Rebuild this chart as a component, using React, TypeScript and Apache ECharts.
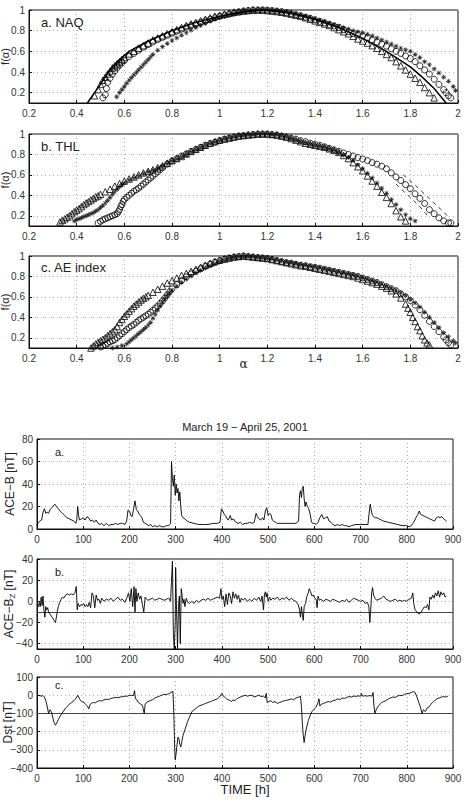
import React, { useEffect, useRef } from 'react';
import * as echarts from 'echarts';

// ---------- Top: multifractal spectra f(alpha) ----------
const naqTri = [[0.475,0.17],[0.49,0.23],[0.5,0.28],[0.51,0.32],[0.52,0.35],[0.53,0.38],[0.54,0.41],[0.55,0.44],[0.56,0.46],[0.57,0.48],[0.58,0.5],[0.59,0.52],[0.6,0.54],[0.62,0.575],[0.64,0.6],[0.66,0.63],[0.68,0.655],[0.7,0.68],[0.72,0.71],[0.74,0.73],[0.76,0.75],[0.78,0.77],[0.8,0.79],[0.82,0.81],[0.84,0.83],[0.86,0.85],[0.88,0.865],[0.9,0.88],[0.92,0.895],[0.94,0.91],[0.96,0.925],[0.98,0.94],[1.0,0.95],[1.02,0.96],[1.04,0.97],[1.06,0.98],[1.08,0.985],[1.1,0.99],[1.12,0.995],[1.14,1.0],[1.16,1.0],[1.18,1.0],[1.2,0.995],[1.22,0.99],[1.24,0.985],[1.26,0.978],[1.28,0.97],[1.3,0.96],[1.32,0.95],[1.34,0.94],[1.36,0.925],[1.38,0.91],[1.4,0.895],[1.42,0.88],[1.44,0.865],[1.46,0.85],[1.48,0.83],[1.5,0.81],[1.52,0.79],[1.54,0.77],[1.56,0.745],[1.58,0.72],[1.6,0.7],[1.62,0.68],[1.64,0.655],[1.66,0.63],[1.68,0.6],[1.7,0.57],[1.72,0.54],[1.74,0.5],[1.76,0.46],[1.78,0.42],[1.8,0.38],[1.82,0.34],[1.84,0.3],[1.86,0.25],[1.88,0.2],[1.9,0.15]];
const naqCirc = [[0.51,0.15],[0.52,0.18],[0.525,0.24],[0.53,0.3],[0.54,0.34],[0.55,0.38],[0.56,0.41],[0.57,0.44],[0.58,0.465],[0.59,0.49],[0.6,0.51],[0.62,0.55],[0.64,0.58],[0.66,0.61],[0.68,0.64],[0.7,0.665],[0.72,0.69],[0.74,0.715],[0.76,0.735],[0.78,0.755],[0.8,0.775],[0.82,0.795],[0.84,0.815],[0.86,0.835],[0.88,0.85],[0.9,0.865],[0.92,0.88],[0.94,0.895],[0.96,0.91],[0.98,0.925],[1.0,0.94],[1.02,0.95],[1.04,0.96],[1.06,0.97],[1.08,0.98],[1.1,0.99],[1.12,0.995],[1.14,1.0],[1.16,1.0],[1.18,1.0],[1.2,1.0],[1.22,0.995],[1.24,0.99],[1.26,0.985],[1.28,0.975],[1.3,0.965],[1.32,0.955],[1.34,0.945],[1.36,0.93],[1.38,0.92],[1.4,0.905],[1.42,0.89],[1.44,0.875],[1.46,0.86],[1.48,0.845],[1.5,0.83],[1.52,0.81],[1.54,0.79],[1.56,0.77],[1.58,0.76],[1.6,0.75],[1.62,0.73],[1.64,0.71],[1.66,0.69],[1.68,0.67],[1.7,0.65],[1.72,0.625],[1.74,0.6],[1.76,0.58],[1.78,0.555],[1.8,0.53],[1.82,0.5],[1.84,0.46],[1.86,0.42],[1.88,0.38],[1.9,0.33],[1.92,0.28],[1.94,0.23],[1.95,0.2],[1.96,0.17],[1.97,0.15]];
const naqStar = [[0.568,0.16],[0.58,0.2],[0.59,0.23],[0.6,0.26],[0.61,0.29],[0.62,0.32],[0.63,0.345],[0.64,0.37],[0.65,0.395],[0.66,0.42],[0.67,0.445],[0.68,0.47],[0.69,0.495],[0.7,0.52],[0.71,0.545],[0.72,0.57],[0.74,0.61],[0.76,0.645],[0.78,0.675],[0.8,0.705],[0.82,0.73],[0.84,0.755],[0.86,0.78],[0.88,0.805],[0.9,0.83],[0.92,0.85],[0.94,0.87],[0.96,0.89],[0.98,0.91],[1.0,0.925],[1.02,0.94],[1.04,0.955],[1.06,0.965],[1.08,0.975],[1.1,0.985],[1.12,0.99],[1.14,0.995],[1.16,1.0],[1.18,1.0],[1.2,1.0],[1.22,0.995],[1.24,0.99],[1.26,0.985],[1.28,0.98],[1.3,0.97],[1.32,0.96],[1.34,0.95],[1.36,0.94],[1.38,0.93],[1.4,0.915],[1.42,0.9],[1.44,0.89],[1.46,0.875],[1.48,0.86],[1.5,0.845],[1.52,0.83],[1.54,0.815],[1.56,0.8],[1.58,0.79],[1.6,0.78],[1.62,0.765],[1.64,0.75],[1.66,0.73],[1.68,0.71],[1.7,0.69],[1.72,0.67],[1.74,0.65],[1.76,0.63],[1.78,0.615],[1.8,0.6],[1.82,0.57],[1.84,0.54],[1.86,0.5],[1.88,0.47],[1.9,0.43],[1.92,0.39],[1.94,0.35],[1.96,0.31],[1.98,0.26],[1.99,0.22]];
const naqFit = [[0.445,0.1],[0.475,0.2],[0.5,0.28],[0.53,0.39],[0.57,0.5],[0.62,0.6],[0.7,0.7],[0.8,0.8],[0.9,0.88],[1.0,0.94],[1.1,0.98],[1.15,0.995],[1.2,1.0],[1.3,0.97],[1.4,0.91],[1.5,0.83],[1.6,0.725],[1.7,0.6],[1.8,0.45],[1.85,0.35],[1.9,0.24],[1.95,0.1]];

const thlTri = [[0.33,0.14],[0.34,0.155],[0.35,0.17],[0.36,0.185],[0.37,0.2],[0.38,0.22],[0.39,0.24],[0.4,0.255],[0.41,0.27],[0.42,0.29],[0.43,0.31],[0.44,0.325],[0.45,0.34],[0.46,0.355],[0.47,0.37],[0.48,0.385],[0.49,0.395],[0.5,0.41],[0.52,0.435],[0.54,0.46],[0.56,0.49],[0.58,0.515],[0.6,0.54],[0.62,0.56],[0.64,0.58],[0.66,0.6],[0.68,0.62],[0.7,0.635],[0.72,0.65],[0.74,0.67],[0.76,0.69],[0.78,0.715],[0.8,0.74],[0.82,0.76],[0.84,0.78],[0.86,0.805],[0.88,0.83],[0.9,0.85],[0.92,0.87],[0.94,0.89],[0.96,0.91],[0.98,0.925],[1.0,0.94],[1.02,0.95],[1.04,0.96],[1.06,0.97],[1.08,0.98],[1.1,0.985],[1.12,0.99],[1.14,0.995],[1.16,1.0],[1.18,1.0],[1.2,1.0],[1.22,0.995],[1.24,0.99],[1.26,0.98],[1.28,0.97],[1.3,0.955],[1.32,0.94],[1.34,0.925],[1.36,0.91],[1.38,0.9],[1.4,0.89],[1.42,0.88],[1.44,0.87],[1.46,0.855],[1.48,0.84],[1.5,0.82],[1.52,0.79],[1.54,0.76],[1.56,0.72],[1.58,0.68],[1.6,0.64],[1.62,0.59],[1.64,0.54],[1.66,0.49],[1.68,0.43],[1.7,0.38],[1.72,0.32],[1.74,0.25],[1.76,0.19],[1.78,0.15]];
const thlStar = [[0.39,0.15],[0.4,0.16],[0.41,0.17],[0.42,0.18],[0.43,0.19],[0.44,0.2],[0.45,0.21],[0.46,0.22],[0.47,0.23],[0.48,0.245],[0.49,0.26],[0.5,0.28],[0.51,0.3],[0.52,0.325],[0.53,0.35],[0.54,0.38],[0.55,0.41],[0.56,0.435],[0.57,0.46],[0.58,0.485],[0.59,0.505],[0.6,0.52],[0.62,0.55],[0.64,0.57],[0.66,0.59],[0.68,0.61],[0.7,0.63],[0.72,0.645],[0.74,0.665],[0.76,0.685],[0.78,0.71],[0.8,0.735],[0.82,0.755],[0.84,0.775],[0.86,0.8],[0.88,0.825],[0.9,0.845],[0.92,0.865],[0.94,0.885],[0.96,0.905],[0.98,0.92],[1.0,0.935],[1.02,0.95],[1.04,0.96],[1.06,0.97],[1.08,0.98],[1.1,0.985],[1.12,0.99],[1.14,0.995],[1.16,1.0],[1.18,1.0],[1.2,1.0],[1.22,0.995],[1.24,0.99],[1.26,0.98],[1.28,0.97],[1.3,0.955],[1.32,0.94],[1.34,0.925],[1.36,0.91],[1.38,0.9],[1.4,0.89],[1.42,0.88],[1.44,0.87],[1.46,0.855],[1.48,0.84],[1.5,0.82],[1.52,0.795],[1.54,0.77],[1.56,0.74],[1.58,0.7],[1.6,0.66],[1.62,0.615],[1.64,0.57],[1.66,0.52],[1.68,0.47],[1.7,0.42],[1.72,0.36],[1.74,0.31],[1.76,0.26],[1.78,0.21],[1.8,0.17],[1.82,0.15]];
const thlCirc = [[0.49,0.13],[0.5,0.145],[0.51,0.16],[0.52,0.17],[0.53,0.18],[0.54,0.19],[0.55,0.2],[0.56,0.21],[0.57,0.22],[0.575,0.24],[0.58,0.26],[0.585,0.29],[0.59,0.31],[0.595,0.34],[0.6,0.36],[0.61,0.38],[0.62,0.4],[0.63,0.42],[0.64,0.44],[0.65,0.455],[0.66,0.47],[0.67,0.49],[0.68,0.51],[0.69,0.53],[0.7,0.55],[0.71,0.57],[0.72,0.59],[0.73,0.61],[0.74,0.63],[0.75,0.65],[0.76,0.67],[0.78,0.705],[0.8,0.735],[0.82,0.76],[0.84,0.785],[0.86,0.805],[0.88,0.83],[0.9,0.85],[0.92,0.87],[0.94,0.89],[0.96,0.905],[0.98,0.92],[1.0,0.935],[1.02,0.95],[1.04,0.96],[1.06,0.97],[1.08,0.98],[1.1,0.985],[1.12,0.99],[1.14,0.995],[1.16,1.0],[1.18,1.0],[1.2,1.0],[1.22,0.995],[1.24,0.99],[1.26,0.98],[1.28,0.97],[1.3,0.96],[1.32,0.95],[1.34,0.935],[1.36,0.925],[1.38,0.91],[1.4,0.9],[1.42,0.89],[1.44,0.875],[1.46,0.86],[1.48,0.845],[1.5,0.83],[1.52,0.815],[1.54,0.8],[1.56,0.785],[1.58,0.77],[1.6,0.755],[1.62,0.74],[1.64,0.72],[1.66,0.705],[1.68,0.685],[1.7,0.66],[1.72,0.62],[1.74,0.58],[1.76,0.545],[1.78,0.505],[1.8,0.465],[1.82,0.415],[1.84,0.37],[1.86,0.32],[1.88,0.26],[1.9,0.22],[1.92,0.18],[1.94,0.15],[1.96,0.13],[1.97,0.13]];
const thlDashA = [[1.77,0.6],[1.82,0.5],[1.87,0.39],[1.92,0.28],[1.96,0.19]];
const thlDashB = [[1.74,0.51],[1.79,0.4],[1.84,0.29],[1.88,0.18]];

const aeTri = [[0.46,0.1],[0.47,0.12],[0.48,0.14],[0.49,0.155],[0.5,0.17],[0.51,0.185],[0.52,0.2],[0.53,0.22],[0.54,0.24],[0.55,0.26],[0.56,0.28],[0.57,0.31],[0.58,0.35],[0.59,0.38],[0.6,0.41],[0.61,0.435],[0.62,0.46],[0.63,0.485],[0.64,0.51],[0.65,0.53],[0.66,0.55],[0.67,0.57],[0.68,0.585],[0.69,0.6],[0.7,0.615],[0.72,0.645],[0.74,0.675],[0.76,0.705],[0.78,0.735],[0.8,0.76],[0.82,0.785],[0.84,0.81],[0.86,0.83],[0.88,0.85],[0.9,0.87],[0.92,0.89],[0.94,0.91],[0.96,0.93],[0.98,0.945],[1.0,0.96],[1.02,0.97],[1.04,0.98],[1.06,0.99],[1.08,0.995],[1.1,1.0],[1.12,0.995],[1.14,0.99],[1.16,0.985],[1.18,0.98],[1.2,0.975],[1.22,0.965],[1.24,0.955],[1.26,0.945],[1.28,0.935],[1.3,0.925],[1.32,0.915],[1.34,0.905],[1.36,0.9],[1.38,0.89],[1.4,0.88],[1.42,0.87],[1.44,0.86],[1.46,0.85],[1.48,0.84],[1.5,0.83],[1.52,0.82],[1.54,0.81],[1.56,0.8],[1.58,0.785],[1.6,0.77],[1.62,0.755],[1.64,0.74],[1.66,0.725],[1.68,0.705],[1.7,0.685],[1.72,0.66],[1.74,0.63],[1.76,0.59],[1.78,0.53],[1.79,0.49],[1.8,0.45],[1.81,0.4],[1.82,0.36],[1.83,0.31],[1.84,0.27],[1.85,0.22],[1.86,0.18],[1.87,0.15],[1.88,0.13]];
const aeCirc = [[0.5,0.11],[0.51,0.12],[0.52,0.13],[0.53,0.145],[0.54,0.16],[0.55,0.17],[0.56,0.18],[0.57,0.2],[0.58,0.22],[0.59,0.24],[0.6,0.26],[0.61,0.28],[0.62,0.3],[0.63,0.315],[0.64,0.33],[0.65,0.35],[0.66,0.37],[0.67,0.385],[0.68,0.4],[0.69,0.415],[0.7,0.43],[0.71,0.45],[0.72,0.47],[0.73,0.49],[0.74,0.51],[0.75,0.535],[0.76,0.56],[0.77,0.59],[0.78,0.62],[0.79,0.65],[0.8,0.68],[0.82,0.72],[0.84,0.76],[0.86,0.795],[0.88,0.825],[0.9,0.85],[0.92,0.875],[0.94,0.9],[0.96,0.92],[0.98,0.94],[1.0,0.955],[1.02,0.97],[1.04,0.98],[1.06,0.99],[1.08,0.995],[1.1,1.0],[1.12,0.995],[1.14,0.99],[1.16,0.985],[1.18,0.98],[1.2,0.975],[1.22,0.965],[1.24,0.955],[1.26,0.945],[1.28,0.935],[1.3,0.93],[1.32,0.92],[1.34,0.91],[1.36,0.905],[1.38,0.895],[1.4,0.89],[1.42,0.88],[1.44,0.87],[1.46,0.86],[1.48,0.85],[1.5,0.84],[1.52,0.83],[1.54,0.82],[1.56,0.81],[1.58,0.8],[1.6,0.785],[1.62,0.77],[1.64,0.755],[1.66,0.74],[1.68,0.72],[1.7,0.7],[1.72,0.68],[1.74,0.66],[1.76,0.63],[1.78,0.6],[1.8,0.565],[1.82,0.52],[1.84,0.475],[1.86,0.42],[1.88,0.36],[1.9,0.31],[1.92,0.26],[1.94,0.21],[1.95,0.18],[1.96,0.15],[1.97,0.13]];
const aeStar = [[0.55,0.1],[0.57,0.11],[0.59,0.125],[0.61,0.14],[0.62,0.16],[0.63,0.18],[0.64,0.2],[0.65,0.22],[0.66,0.24],[0.67,0.26],[0.68,0.28],[0.69,0.3],[0.7,0.325],[0.71,0.35],[0.72,0.39],[0.73,0.43],[0.74,0.47],[0.75,0.51],[0.76,0.55],[0.77,0.585],[0.78,0.615],[0.79,0.64],[0.8,0.665],[0.82,0.705],[0.84,0.74],[0.86,0.775],[0.88,0.805],[0.9,0.835],[0.92,0.86],[0.94,0.885],[0.96,0.905],[0.98,0.925],[1.0,0.945],[1.02,0.96],[1.04,0.975],[1.06,0.985],[1.08,0.99],[1.1,0.995],[1.12,0.995],[1.14,0.99],[1.16,0.985],[1.18,0.98],[1.2,0.975],[1.22,0.97],[1.24,0.96],[1.26,0.95],[1.28,0.94],[1.3,0.935],[1.32,0.925],[1.34,0.915],[1.36,0.91],[1.38,0.9],[1.4,0.895],[1.42,0.885],[1.44,0.875],[1.46,0.865],[1.48,0.855],[1.5,0.845],[1.52,0.835],[1.54,0.825],[1.56,0.815],[1.58,0.805],[1.6,0.79],[1.62,0.775],[1.64,0.76],[1.66,0.745],[1.68,0.725],[1.7,0.705],[1.72,0.685],[1.74,0.665],[1.76,0.64],[1.78,0.61],[1.8,0.575],[1.82,0.54],[1.84,0.5],[1.86,0.45],[1.88,0.4],[1.9,0.35],[1.92,0.3],[1.94,0.25],[1.96,0.21],[1.98,0.17],[1.99,0.15]];

// ---------- Bottom: time series ----------
const aceB = [[0,3],[3,6],[6,7],[10,8],[13,15],[16,18],[19,14],[22,15],[25,14],[28,17],[32,19],[36,21],[39,22],[42,20],[46,18],[50,16],[55,14],[60,12],[65,10],[70,9],[75,8],[80,7],[84,5],[86,8],[88,20],[90,12],[92,8],[96,9],[100,10],[104,8],[108,11],[112,10],[116,7],[120,8],[124,6],[128,8],[132,5],[136,4],[140,5],[145,3],[150,5],[155,3],[160,4],[165,4],[170,5],[175,4],[180,5],[185,5],[190,4],[194,7],[197,17],[200,16],[203,12],[206,11],[209,18],[212,25],[215,17],[218,16],[221,13],[224,12],[227,10],[230,6],[234,5],[238,4],[242,3],[246,4],[250,2],[255,3],[260,2],[265,3],[270,2],[275,2],[280,3],[285,3],[289,5],[291,60],[293,45],[295,38],[297,48],[299,30],[301,40],[303,32],[305,36],[307,25],[309,33],[311,20],[313,12],[316,10],[320,9],[325,7],[330,6],[340,5],[350,4],[360,4],[370,4],[380,5],[390,5],[396,6],[399,18],[402,16],[405,13],[408,12],[411,9],[414,8],[418,12],[421,8],[425,9],[430,6],[435,5],[440,6],[445,4],[450,5],[455,5],[460,6],[465,5],[470,6],[474,14],[477,11],[480,9],[484,8],[488,10],[491,8],[494,16],[497,19],[500,12],[503,14],[506,13],[509,8],[512,7],[516,6],[520,5],[530,5],[540,5],[550,5],[560,5],[566,7],[568,30],[570,34],[572,28],[574,36],[576,38],[578,27],[580,20],[582,24],[585,20],[588,18],[591,13],[594,6],[597,5],[600,5],[604,4],[608,6],[612,10],[616,13],[620,9],[624,10],[628,11],[632,7],[636,6],[640,4],[645,3],[650,4],[655,3],[660,4],[665,3],[670,3],[675,2],[680,3],[690,4],[700,4],[710,4],[716,4],[719,16],[721,22],[723,17],[725,13],[728,11],[732,10],[736,10],[740,9],[745,8],[750,7],[760,6],[770,5],[780,4],[790,3],[800,3],[805,2],[810,3],[815,6],[820,10],[824,13],[827,16],[830,13],[835,12],[840,11],[845,10],[850,9],[855,8],[860,7],[864,10],[868,11],[872,10],[876,11],[880,9],[883,8],[886,7]];
const aceBz = [[0,-3],[3,-5],[5,-1],[7,-5],[9,4],[11,-4],[13,5],[15,-8],[17,-15],[19,-5],[21,-8],[23,-6],[25,-10],[28,-12],[31,-14],[34,-16],[37,-18],[40,-20],[43,-12],[46,-5],[49,-1],[52,2],[55,4],[58,3],[62,6],[66,7],[70,6],[74,7],[78,6],[82,8],[85,14],[87,-8],[89,-2],[92,-5],[95,-3],[98,-4],[101,-2],[104,-5],[107,-3],[110,-5],[113,-1],[116,-6],[119,8],[122,5],[125,-6],[128,6],[131,1],[134,2],[137,-2],[140,3],[145,0],[150,2],[155,1],[160,3],[165,0],[170,2],[175,4],[180,1],[185,2],[190,-1],[195,4],[198,8],[201,0],[204,12],[207,-5],[210,14],[212,-10],[214,12],[216,0],[219,8],[222,2],[225,5],[228,-3],[231,-10],[234,4],[237,2],[240,1],[245,2],[250,3],[255,1],[260,2],[265,3],[270,2],[275,1],[280,2],[285,3],[289,0],[291,20],[293,38],[295,-30],[297,-45],[299,-20],[300,32],[302,-10],[304,-45],[306,-5],[308,5],[310,-40],[312,12],[314,5],[316,-2],[318,2],[320,-5],[323,3],[326,-1],[330,-2],[335,0],[340,-2],[345,1],[350,-1],[355,1],[360,2],[365,1],[370,3],[375,1],[380,2],[385,3],[390,4],[395,3],[398,12],[400,2],[403,5],[406,-5],[409,7],[412,-3],[415,8],[418,5],[421,-2],[424,9],[427,3],[430,7],[433,2],[436,6],[439,-1],[442,3],[446,1],[450,3],[455,0],[460,2],[465,0],[470,3],[475,1],[480,4],[484,0],[487,5],[490,-8],[492,6],[494,9],[496,4],[498,8],[500,0],[503,4],[506,1],[510,3],[515,2],[520,4],[525,1],[530,3],[535,2],[540,4],[545,1],[550,3],[555,1],[560,0],[565,-3],[568,-8],[570,-15],[572,-5],[574,-12],[576,-18],[578,-5],[581,-2],[584,5],[587,8],[589,12],[592,9],[595,5],[598,6],[601,3],[604,2],[606,-6],[608,5],[611,1],[614,2],[620,0],[625,2],[630,1],[635,0],[640,2],[645,1],[650,0],[655,-1],[660,1],[665,0],[670,2],[675,-1],[680,1],[685,3],[690,2],[695,1],[700,0],[705,1],[710,-2],[715,-1],[718,-5],[720,-20],[722,-8],[724,8],[726,13],[728,6],[731,3],[735,1],[740,2],[745,3],[750,5],[755,2],[760,1],[765,0],[770,1],[775,2],[780,0],[785,1],[790,0],[795,1],[800,0],[805,2],[810,3],[813,8],[815,-2],[818,-8],[822,-10],[826,-12],[830,-11],[834,-8],[838,-5],[842,-6],[845,-3],[848,-8],[850,4],[853,2],[856,6],[859,3],[862,8],[865,5],[868,10],[871,4],[874,9],[877,6],[880,8],[883,4],[886,5]];
const dst = [[0,0],[5,-2],[10,-5],[13,-2],[16,-10],[19,-30],[22,-60],[25,-100],[28,-80],[31,-90],[34,-120],[37,-150],[40,-165],[43,-150],[46,-135],[50,-115],[54,-100],[58,-85],[62,-70],[66,-60],[70,-50],[75,-40],[80,-30],[85,-15],[88,0],[90,-10],[93,-25],[97,-35],[101,-40],[105,-50],[109,-60],[112,-75],[115,-50],[118,-45],[122,-40],[126,-42],[130,-35],[135,-30],[140,-32],[145,-25],[150,-22],[155,-24],[160,-18],[165,-15],[170,-12],[175,-14],[180,-10],[185,-8],[190,-5],[195,-6],[200,0],[205,-2],[209,-1],[211,25],[213,-20],[216,-25],[219,-40],[222,-45],[225,-50],[228,-55],[230,-80],[232,-100],[234,-50],[237,-40],[240,-35],[245,-30],[250,-25],[255,-15],[260,-10],[265,-5],[270,0],[275,5],[280,3],[285,8],[290,15],[294,22],[296,-100],[297,-200],[298,-300],[299,-355],[301,-320],[303,-270],[305,-230],[307,-240],[309,-270],[311,-285],[313,-260],[316,-220],[320,-190],[325,-150],[330,-120],[335,-90],[340,-80],[345,-70],[350,-60],[355,-55],[360,-50],[365,-45],[370,-40],[375,-35],[380,-30],[385,-25],[390,-20],[395,-10],[400,10],[403,-5],[406,-10],[410,-20],[414,-25],[418,-30],[421,-35],[424,-25],[428,-30],[432,-20],[436,-15],[440,-10],[445,-5],[450,0],[455,-5],[460,-2],[465,0],[470,-10],[475,-5],[480,0],[485,-8],[490,-5],[494,-15],[496,10],[498,-40],[502,-35],[506,-30],[510,-40],[515,-35],[520,-45],[525,-40],[530,-35],[535,-30],[540,-28],[545,-25],[550,-20],[555,-25],[560,-15],[565,-12],[570,-5],[572,-60],[574,-150],[576,-220],[578,-260],[580,-220],[583,-180],[587,-140],[591,-110],[595,-90],[600,-75],[604,-65],[608,-40],[610,-20],[612,-60],[615,-50],[620,-45],[625,-40],[630,-35],[635,-38],[640,-30],[645,-28],[650,-20],[655,-25],[660,-15],[665,-18],[670,-12],[675,-8],[680,-10],[685,-5],[690,-6],[695,-4],[700,-5],[702,10],[704,-5],[710,-3],[715,-5],[720,-2],[725,-5],[727,15],[729,-60],[731,-100],[734,-80],[738,-60],[742,-50],[746,-40],[750,-35],[755,-30],[760,-20],[765,-15],[770,-10],[775,-12],[780,-5],[785,0],[790,-3],[795,5],[800,8],[805,10],[810,15],[814,20],[818,15],[822,-10],[826,-40],[830,-70],[833,-100],[836,-80],[840,-90],[844,-70],[848,-65],[852,-50],[856,-40],[860,-30],[865,-20],[870,-15],[875,-10],[880,-8],[885,-10],[889,-5]];

const fTicks = [0.2, 0.4, 0.6, 0.8, 1];
const bzTicks = [-40, -20, 0, 20, 40];
const bzThreshold = -10;
const dstThreshold = -100;

const FONT = '"Liberation Sans", Arial, Helvetica, sans-serif';
const STAR = 'path://M4.3,0H5.7V10H4.3Z M0,4.3H10V5.7H0Z M1,2L2,1L9,8L8,9Z M8,1L9,2L2,9L1,8Z';

const fmt = (v: number) => {
  const r = Math.round(v * 1000) / 1000;
  return (r < 0 ? '\u2212' : '') + String(Math.abs(r));
};

function buildOption() {
  const topTops = [10, 134, 256];
  const topH = [93, 92, 92];
  const botTops = [439, 559, 677];
  const botH = [90, 90, 91];
  const grid: any[] = [];
  const gBase = { show: true, borderColor: '#111', borderWidth: 1, backgroundColor: 'transparent', containLabel: false, outerBoundsMode: 'none' };
  topTops.forEach((t, i) => grid.push({ ...gBase, left: 29, width: 429, top: t, height: topH[i] }));
  botTops.forEach((t, i) => grid.push({ ...gBase, left: 37, width: 416, top: t, height: botH[i] }));

  const splitLine = { show: true, lineStyle: { type: [1, 3], color: '#999', width: 0.8 } };
  const axisLine = { show: true, onZero: false, lineStyle: { color: '#111', width: 1 } };
  const axisTick = { show: true, inside: true, length: 3, lineStyle: { color: '#111' } };
  const lab = { fontSize: 10, color: '#333', fontFamily: FONT };

  const xAxis: any[] = [];
  const yAxis: any[] = [];
  for (let i = 0; i < 3; i++) {
    xAxis.push({
      gridIndex: i, type: 'value', min: 0.2, max: 2, interval: 0.2,
      axisLine, axisTick, splitLine,
      axisLabel: { ...lab, margin: 5, formatter: fmt },
      name: i === 2 ? '\u03b1' : '', nameLocation: 'middle', nameGap: 10, nameMoveOverlap: false,
      nameTextStyle: { fontSize: 12, color: '#222', fontFamily: 'DejaVu Serif, serif' },
    });
    yAxis.push({
      gridIndex: i, type: 'value', min: 0.1, max: 1,
      axisLine, splitLine,
      axisTick: { ...axisTick, customValues: fTicks },
      axisLabel: { ...lab, margin: 4, formatter: fmt, customValues: fTicks },
      name: 'f(\u03b1)', nameLocation: 'middle', nameGap: 19, nameRotate: 90, nameMoveOverlap: false,
      nameTextStyle: { fontSize: 11, color: '#222', fontFamily: FONT },
    });
  }
  for (let i = 0; i < 3; i++) {
    xAxis.push({
      gridIndex: 3 + i, type: 'value', min: 0, max: 900, interval: 100,
      axisLine, axisTick, splitLine,
      axisLabel: { ...lab, margin: 5, formatter: fmt },
      name: i === 2 ? 'TIME [h]' : '', nameLocation: 'middle', nameGap: 15, nameMoveOverlap: false,
      nameTextStyle: { fontSize: 13, color: '#222', fontFamily: FONT },
    });
  }
  yAxis.push({
    gridIndex: 3, type: 'value', min: 0, max: 80, interval: 20,
    axisLine, axisTick, splitLine,
    axisLabel: { ...lab, margin: 4, formatter: fmt },
    name: 'ACE\u2212B [nT]', nameLocation: 'middle', nameGap: 21, nameRotate: 90, nameMoveOverlap: false,
    nameTextStyle: { fontSize: 12, color: '#222', fontFamily: FONT },
  });
  yAxis.push({
    gridIndex: 4, type: 'value', min: -45, max: 40,
    axisLine, splitLine,
    axisTick: { ...axisTick, customValues: bzTicks },
    axisLabel: { ...lab, margin: 4, formatter: fmt, customValues: bzTicks },
    name: '{n|ACE\u2212B}{s|Z}{n| [nT]}', nameLocation: 'middle', nameGap: 21, nameRotate: 90, nameMoveOverlap: false,
    nameTextStyle: { fontSize: 12, color: '#222', fontFamily: FONT, rich: { n: { fontSize: 12, fontFamily: FONT, color: '#222' }, s: { fontSize: 8, fontFamily: FONT, color: '#222', padding: [7, 0, 0, 0] } } },
  });
  yAxis.push({
    gridIndex: 5, type: 'value', min: -400, max: 100, interval: 100,
    axisLine, axisTick, splitLine,
    axisLabel: { ...lab, margin: 4, formatter: fmt },
    name: 'Dst [nT]', nameLocation: 'middle', nameGap: 23, nameRotate: 90, nameMoveOverlap: false,
    nameTextStyle: { fontSize: 12, color: '#222', fontFamily: FONT },
  });

  const triS = (data: number[][], idx: number) => ({ type: 'scatter', xAxisIndex: idx, yAxisIndex: idx, data, symbol: 'triangle', symbolSize: 6.5, itemStyle: { color: 'rgba(255,255,255,0)', borderColor: '#000', borderWidth: 1 }, z: 3 });
  const circS = (data: number[][], idx: number) => ({ type: 'scatter', xAxisIndex: idx, yAxisIndex: idx, data, symbol: 'circle', symbolSize: 6, itemStyle: { color: 'rgba(255,255,255,0)', borderColor: '#000', borderWidth: 1 }, z: 3 });
  const starS = (data: number[][], idx: number) => ({ type: 'scatter', xAxisIndex: idx, yAxisIndex: idx, data, symbol: STAR, symbolSize: 5, itemStyle: { color: '#000' }, z: 4 });
  const lineS = (data: number[][], idx: number, extra: any = {}) => ({ type: 'line', xAxisIndex: idx, yAxisIndex: idx, data, symbol: 'none', showSymbol: false, lineStyle: { color: '#000', width: 1, ...extra }, z: 5 });
  const hLine = (y: number) => ({ silent: true, symbol: ['none', 'none'], label: { show: false }, lineStyle: { color: '#444', type: 'solid', width: 1 }, data: [{ yAxis: y }] });

  const series: any[] = [
    circS(naqCirc, 0), triS(naqTri, 0), starS(naqStar, 0), lineS(naqFit, 0, { width: 1.5 }),
    circS(thlCirc, 1), triS(thlTri, 1), starS(thlStar, 1), lineS(thlDashA, 1, { type: [4, 4], width: 0.8 }), lineS(thlDashB, 1, { type: [4, 4], width: 0.8 }),
    circS(aeCirc, 2), triS(aeTri, 2), starS(aeStar, 2),
    lineS(aceB, 3, { width: 0.9 }),
    { ...lineS(aceBz, 4, { width: 0.9 }), markLine: hLine(bzThreshold) },
    { ...lineS(dst, 5, { width: 0.9 }), markLine: hLine(dstThreshold) },
  ];

  const txt = (text: string, x: number, y: number, size: number, align = 'left') => ({
    type: 'text', x, y, z: 10, style: { text, fontSize: size, fill: '#222', fontFamily: FONT, align, verticalAlign: 'middle' },
  });
  const graphic = [
    txt('a. NAQ', 41, 22, 13),
    txt('b. THL', 41, 146, 13),
    txt('c. AE index', 41, 267, 13),
    txt('March 19 \u2212 April 25, 2001', 245, 427, 11, 'center'),
    txt('a.', 55, 452, 11),
    txt('b.', 55, 572, 11),
    txt('c.', 55, 685, 11),
  ];

  return { animation: false, backgroundColor: '#fff', textStyle: { fontFamily: FONT }, grid, xAxis, yAxis, series, graphic };
}

export default function App() {
  const ref = useRef<HTMLDivElement>(null);
  useEffect(() => {
    const chart = echarts.init(ref.current!, null, { renderer: 'svg' });
    chart.setOption(buildOption() as any);
    return () => chart.dispose();
  }, []);
  return <div ref={ref} style={{ position: 'absolute', left: 0, top: 0, width: 466, height: 807, background: '#fff' }} />;
}
